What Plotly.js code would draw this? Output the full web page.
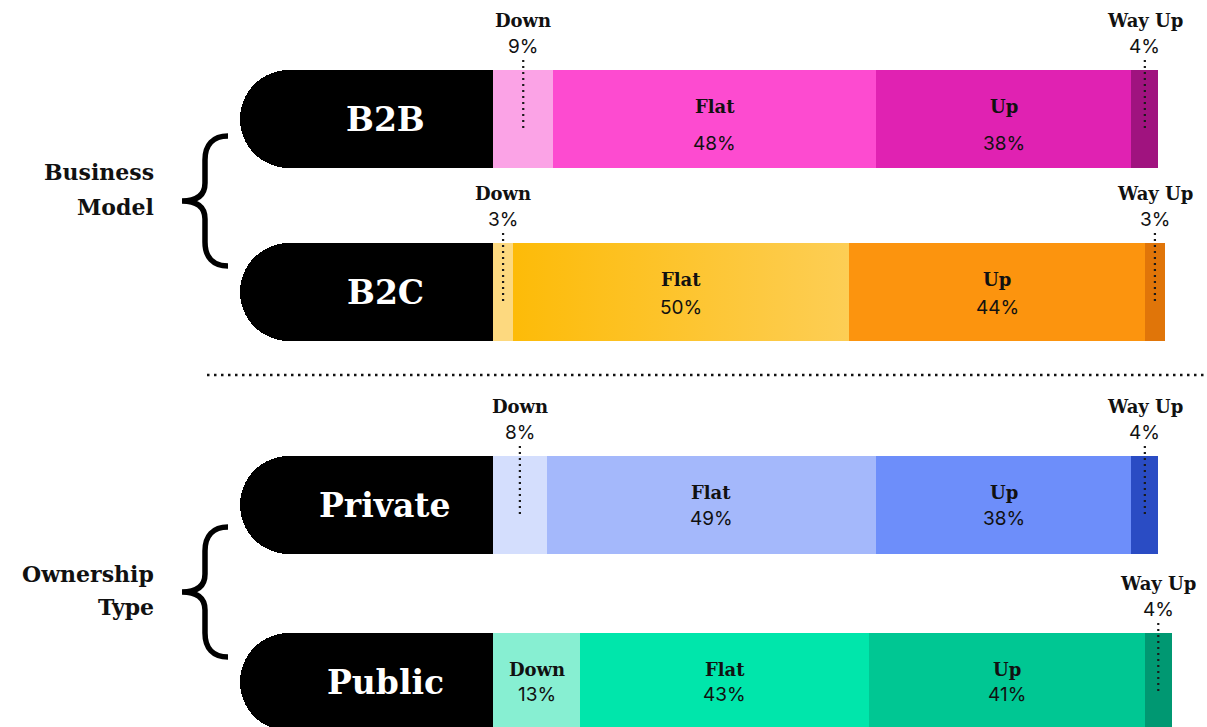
<!DOCTYPE html>
<html><head><meta charset="utf-8">
<script src="https://cdn.plot.ly/plotly-3.0.1.min.js"></script>
<style>html,body{margin:0;padding:0;background:#fff}</style>
</head><body><div id="chart" style="width:1207px;height:727px"></div>
<script>
// ---- data ----
const rows = ['B2B', 'B2C', 'Private', 'Public'];
const segments = ['Down', 'Flat', 'Up', 'Way Up'];
const down = [9, 3, 8, 13];
const flat = [48, 50, 49, 43];
const up = [38, 44, 38, 41];
const wayUp = [4, 3, 4, 4];
const groupTop = ['Business', 'Model'];
const groupBottom = ['Ownership', 'Type'];

// ---- layout constants ----
const W = 1207, H = 727;
const X0 = 493, PXU = 6.72;           // pixel of value 0, pixels per percent
const rowY = [119, 292, 505, 682];     // row centres (px)
const barH = 98;
const pillLeft = 240, labelX = 385;
const pctOffset = [73, 64, 62, 61];
const colors = [
  ['#FBA3E6', '#FD4BD0', '#E022B2', '#A0137F'],
  ['#FDD97F', '#FDC42C', '#FC940E', '#E07509'],
  ['#D4DEFD', '#A4B8FB', '#6D8EFA', '#2A4CC4'],
  ['#87EFD2', '#00E6AB', '#00C793', '#009872']
];
const serif = 'DejaVu Serif';
const sans = 'Inter, Roboto, sans-serif';
const ink = '#111111';

const px2x = p => (p - X0) / PXU;
const xRange = [px2x(0), px2x(W)];
const series = [down, flat, up, wayUp];

const traces = [];
// black pill behind label (decoration)
traces.push({
  type: 'bar', orientation: 'h', xaxis: 'x2', yaxis: 'y',
  y: rowY, x: rows.map(() => px2x(pillLeft)), width: barH,
  marker: {color: '#000000', cornerradius: '50%', line: {width: 0}},
  hoverinfo: 'skip', showlegend: false
});
series.forEach((vals, j) => {
  traces.push({
    type: 'bar', orientation: 'h', name: segments[j],
    y: rowY, x: vals, width: barH,
    marker: {color: rows.map((r, i) => colors[i][j]), line: {width: 0}},
    hoverinfo: 'x+name', showlegend: false
  });
});

const annotations = [];
const shapes = [];
rows.forEach((r, i) => {
  const top = rowY[i] - barH / 2;
  annotations.push({x: px2x(labelX), y: rowY[i], xref: 'x', yref: 'y', text: r, showarrow: false,
    xanchor: 'center', yanchor: 'middle', font: {family: serif, size: 33, color: '#ffffff', weight: 700}});
  let cum = 0;
  series.forEach((vals, j) => {
    const v = vals[i];
    const c = cum + v / 2;
    cum += v;
    if (v >= 10) {
      annotations.push({x: c, y: top + 36, xref: 'x', yref: 'y', text: segments[j], showarrow: false,
        xanchor: 'center', yanchor: 'middle', font: {family: serif, size: 18, color: ink, weight: 700}});
      annotations.push({x: c, y: top + pctOffset[i], xref: 'x', yref: 'y', text: v + '%', showarrow: false,
        xanchor: 'center', yanchor: 'middle', font: {family: sans, size: 19, color: ink}});
    } else {
      annotations.push({x: c, y: top - 50, xref: 'x', yref: 'y', text: segments[j], showarrow: false,
        xanchor: 'center', yanchor: 'middle', font: {family: serif, size: 18, color: ink, weight: 700}});
      annotations.push({x: c, y: top - 24, xref: 'x', yref: 'y', text: v + '%', showarrow: false,
        xanchor: 'center', yanchor: 'middle', font: {family: sans, size: 19, color: ink}});
      shapes.push({type: 'line', xref: 'x', yref: 'y', x0: c, x1: c, y0: top - 10, y1: top + 62,
        line: {color: '#1a1a1a', width: 2.2, dash: '2px,4px'}});
    }
  });
});

// group labels (paper coordinates)
const pX = p => p / W, pY = p => 1 - p / H;
function groupLabel(lines, ys) {
  lines.forEach((t, k) => annotations.push({x: pX(156), y: pY(ys[k]), xref: 'paper', yref: 'paper', text: t,
    showarrow: false, xanchor: 'right', yanchor: 'middle', font: {family: serif, size: 22, color: ink, weight: 700}}));
}
groupLabel(groupTop, [172, 207]);
groupLabel(groupBottom, [574, 607]);

function brace(cy, h) {
  const P = (x, y) => pX(x).toFixed(5) + ',' + pY(y).toFixed(5);
  return 'M' + P(228, cy - h) +
    ' C' + P(213, cy - h) + ' ' + P(205, cy - h + 9) + ' ' + P(205, cy - h + 24) +
    ' L' + P(205, cy - 18) +
    ' C' + P(205, cy - 6) + ' ' + P(197, cy) + ' ' + P(182, cy) +
    ' C' + P(197, cy) + ' ' + P(205, cy + 6) + ' ' + P(205, cy + 18) +
    ' L' + P(205, cy + h - 24) +
    ' C' + P(205, cy + h - 9) + ' ' + P(213, cy + h) + ' ' + P(228, cy + h);
}
shapes.push({type: 'path', xref: 'paper', yref: 'paper', path: brace(201, 65), line: {color: '#000', width: 5.5}});
shapes.push({type: 'path', xref: 'paper', yref: 'paper', path: brace(592, 65), line: {color: '#000', width: 5.5}});
// separator
shapes.push({type: 'line', xref: 'paper', yref: 'paper', x0: pX(207), x1: 1, y0: pY(375), y1: pY(375),
  line: {color: '#111', width: 2.5, dash: '2.5px,4.5px'}});

const layout = {
  width: W, height: H, margin: {l: 0, r: 0, t: 0, b: 0},
  paper_bgcolor: '#ffffff', plot_bgcolor: '#ffffff',
  barmode: 'stack', showlegend: false,
  xaxis: {range: xRange, visible: false, fixedrange: true},
  xaxis2: {range: xRange, visible: false, overlaying: 'x', fixedrange: true},
  yaxis: {range: [H, 0], visible: false, fixedrange: true},
  annotations: annotations, shapes: shapes
};
Plotly.newPlot('chart', traces, layout, {displayModeBar: false, staticPlot: true}).then(gd => {
  // soft left-to-right gradient on the B2C "Flat" segment, as in the reference
  try {
    const svg = gd.querySelector('svg.main-svg');
    const ns = 'http://www.w3.org/2000/svg';
    let defs = svg.querySelector('defs');
    if (!defs) { defs = document.createElementNS(ns, 'defs'); svg.insertBefore(defs, svg.firstChild); }
    const g = document.createElementNS(ns, 'linearGradient');
    g.setAttribute('id', 'b2cFlatGrad');
    g.setAttribute('x1', '0'); g.setAttribute('x2', '1'); g.setAttribute('y1', '0'); g.setAttribute('y2', '0');
    [['0', '#FDBB08'], ['1', '#FDCE55']].forEach(([o, c]) => {
      const s = document.createElementNS(ns, 'stop');
      s.setAttribute('offset', o); s.setAttribute('stop-color', c); g.appendChild(s);
    });
    defs.appendChild(g);
    const barTraces = gd.querySelectorAll('.barlayer .trace.bars');
    // find the trace whose points carry the Flat colours
    barTraces.forEach(t => {
      const d = t.__data__;
      if (d && d[0] && d[0].trace && d[0].trace.name === 'Flat') {
        const pts = t.querySelectorAll('.point path');
        const p = pts[rows.indexOf('B2C')];
        if (p) p.style.fill = 'url(#b2cFlatGrad)';
      }
    });
  } catch (e) {}
});
</script></body></html>
